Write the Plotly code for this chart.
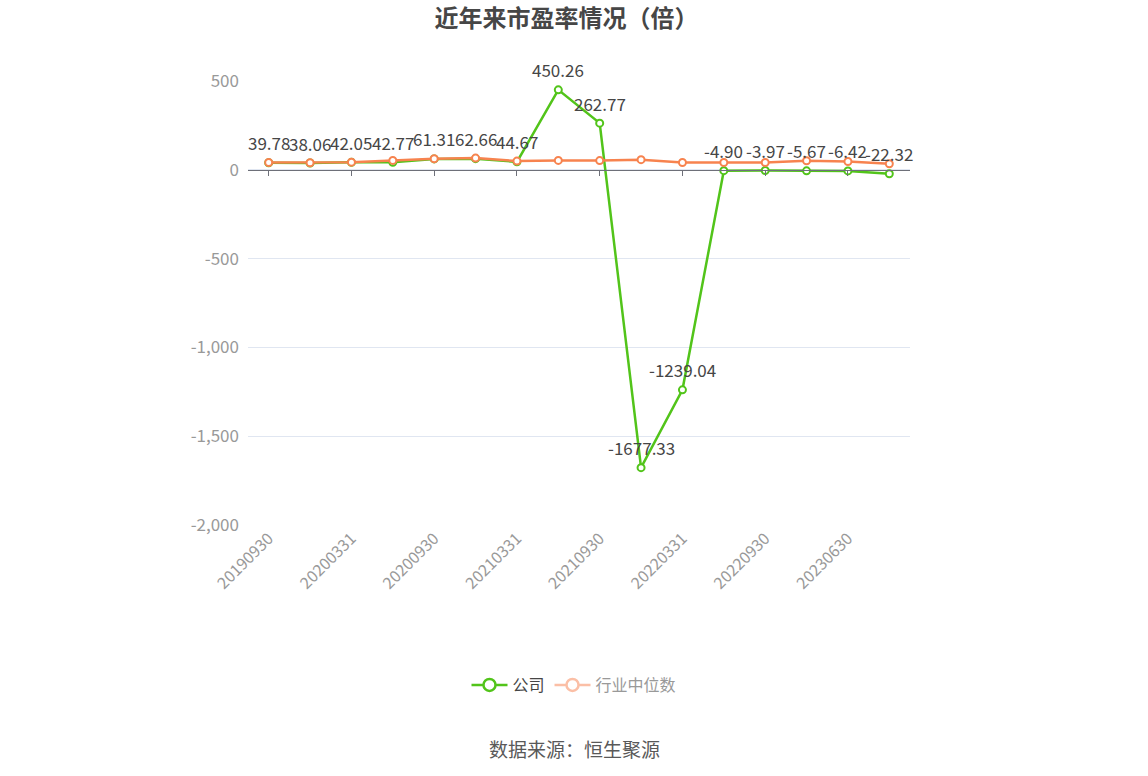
import plotly.graph_objects as go

dates = ["20190930", "20191231", "20200331", "20200630", "20200930", "20201231",
         "20210331", "20210630", "20210930", "20211231", "20220331", "20220630",
         "20220930", "20230331", "20230630", "20230930"]
company = [39.78, 38.06, 42.05, 42.77, 61.31, 62.66, 44.67, 450.26, 262.77,
           -1677.33, -1239.04, -4.90, -3.97, -5.67, -6.42, -22.32]
industry = [41, 40, 43, 53, 62, 66, 49, 53, 52, 57, 41, 41, 41, 51, 47, 34]
x_ticks = dates[::2]
y_ticks = [500, 0, -500, -1000, -1500, -2000]
y_tick_text = ["500", "0", "-500", "-1,000", "-1,500", "-2,000"]

GREEN = "#52C41A"
ORANGE = "#F7834F"


def main():
    fig = go.Figure()

    fig.add_trace(go.Scatter(
        x=dates, y=company, name="公司", mode="lines+markers",
        line=dict(color=GREEN, width=2.5),
        marker=dict(size=7, color="white", line=dict(color=GREEN, width=2)),
        cliponaxis=False, showlegend=False,
    ))
    fig.add_trace(go.Scatter(
        x=dates, y=industry, name="行业中位数", mode="lines+markers",
        line=dict(color=ORANGE, width=2.5),
        marker=dict(size=7, color="white", line=dict(color=ORANGE, width=2)),
        xaxis="x2", showlegend=False,
    ))

    # legend-only entries (the industry one is drawn faded like the original)
    fig.add_trace(go.Scatter(
        x=[None], y=[None], name="公司", mode="lines+markers",
        line=dict(color=GREEN, width=2.5),
        marker=dict(size=12, color="white", line=dict(color=GREEN, width=2.5)),
    ))
    fig.add_trace(go.Scatter(
        x=[None], y=[None], name="<span style='color:#999999'>行业中位数</span>",
        mode="lines+markers",
        line=dict(color="#FBBFA6", width=2.5),
        marker=dict(size=12, color="white", line=dict(color="#FBBFA6", width=2.5)),
    ))

    # value labels above the company points
    # (category axis: position by index, the dates look like numbers to plotly)
    labels = [dict(x=i, y=v, xref="x", yref="y", text=f"{v:.2f}", showarrow=False,
                   yshift=20, yanchor="middle",
                   font=dict(size=17, color="#464646"))
              for i, v in enumerate(company)]

    labels.append(dict(
        text="数据来源：恒生聚源", xref="paper", yref="paper",
        x=(574 - 248) / 662, y=(525 - 748) / 444, showarrow=False,
        xanchor="center", yanchor="middle",
        font=dict(size=19, color="#595959"),
    ))

    fig.update_layout(
        width=1148, height=776,
        margin=dict(l=248, r=238, t=81, b=251),
        plot_bgcolor="white", paper_bgcolor="white",
        font=dict(family="Noto Sans CJK SC, Noto Sans, sans-serif", size=14, color="#999999"),
        title=dict(text="<b>近年来市盈率情况（倍）</b>", x=566.5 / 1148, xref="container",
                   xanchor="center", y=1 - 19 / 776, yref="container", yanchor="middle",
                   font=dict(size=24, color="#464646")),
        xaxis=dict(
            type="category", categoryorder="array", categoryarray=dates,
            range=[-0.5, len(dates) - 0.5],
            tickvals=x_ticks, ticktext=x_ticks, tickangle=-45,
            showline=False, showgrid=False, ticks="", zeroline=False,
            tickfont=dict(size=16, color="#999999"),
        ),
        xaxis2=dict(
            type="category", categoryorder="array", categoryarray=dates,
            overlaying="x", anchor="free", position=0.8, matches="x",
            range=[-0.5, len(dates) - 0.5],
            tickvals=x_ticks, showticklabels=False,
            showline=True, linecolor="#6E7079", linewidth=1,
            ticks="outside", ticklen=5, tickcolor="#6E7079",
            showgrid=False, zeroline=False,
        ),
        yaxis=dict(
            range=[-2000, 500], tickvals=y_ticks, ticktext=y_tick_text,
            showgrid=True, gridcolor="#E0E6F1", gridwidth=1,
            zeroline=False, showline=False, ticks="",
            tickfont=dict(size=17, color="#999999"), ticklabelstandoff=8,
        ),
        legend=dict(orientation="h", xref="container", x=0.5, xanchor="center",
                    yref="container", y=1 - 685 / 776, yanchor="middle",
                    font=dict(size=16, color="#464646"), itemwidth=36),
        annotations=labels,
    )

    fig.write_html("out.html", config={"displayModeBar": False},
                   post_script="document.body.style.margin='0';")


if __name__ == "__main__":
    main()
